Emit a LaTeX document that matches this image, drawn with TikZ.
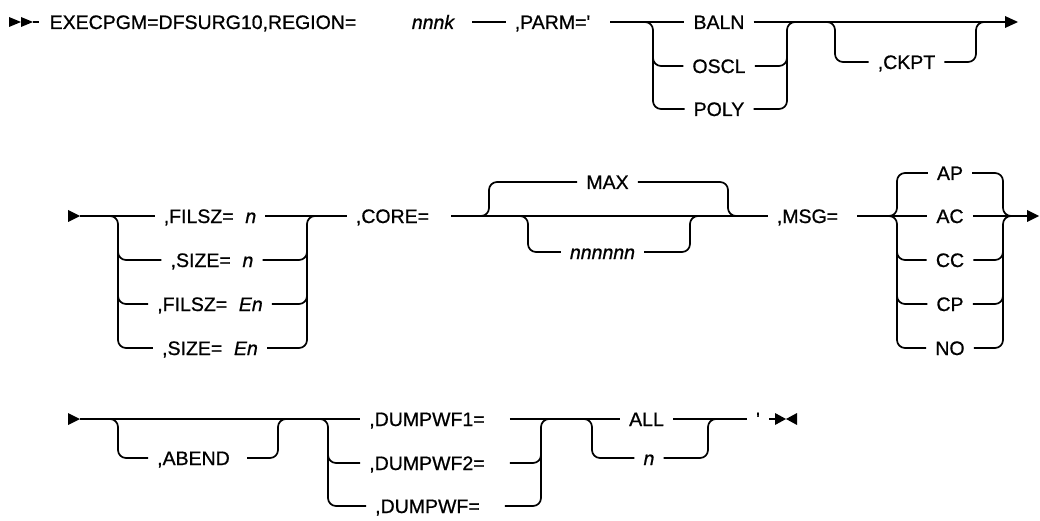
\documentclass[tikz,border=0pt]{standalone}
\usepackage{fontspec}
\setmainfont{Liberation Sans}[FakeBold=0.8,ItalicFeatures={FakeBold=0.8}]
\begin{document}
\begin{tikzpicture}[x=1pt,y=-1pt,
  rail/.style={line width=1.7pt, rounded corners=8pt},
  lbl/.style={inner xsep=9pt, inner ysep=0pt, text height=14pt, text depth=0pt, font=\fontsize{19.5}{22}\selectfont},
  var/.style={lbl, font=\fontsize{19.5}{22}\selectfont\itshape},
  tipfill/.style={fill=black, draw=none}]
\useasboundingbox (0,0) rectangle (1040,521);
\newcommand{\gp}{\hspace{0.6em}}
% ---------------- row 1 ----------------
\coordinate (s1) at (33,22);
\fill[tipfill] (9,17) -- (21,22) -- (9,27) -- cycle;
\fill[tipfill] (21,17) -- (33,22) -- (21,27) -- cycle;
\node[lbl] (exec) at (203,22) {EXECPGM=DFSURG10,REGION=};
\draw[rail] (s1) -- ([xshift=-1pt]exec.west);
\node[var] (nnnk) at (433,22) {nnnk};
\node[lbl] (parm) at (552.5,22) {,PARM=\textquotesingle};
\node[lbl] (baln) at (719,22) {BALN};
\node[lbl] (oscl) at (719,66) {OSCL};
\node[lbl] (poly) at (719,109) {POLY};
\node[lbl] (ckpt) at (906.5,62) {,CKPT};
\coordinate (e1) at (1018,22);
\draw[rail] ([xshift=9pt]nnnk.east) -- (parm.west);
\draw[rail] ([xshift=11pt]parm.east) -- (baln.west);
\draw[rail] (baln.east) -- ([xshift=-11pt]e1);
\fill[tipfill] (e1) -- ++(-13,-6) -- ++(0,12) -- cycle;
\draw[rail] (640,22) -- (653,22) -- (653,109) -- (poly.west);
\draw[rail] (653,45) -- (653,66) -- (oscl.west);
\draw[rail] (poly.east) -- (787,109) -- (787,22) -- (800,22);
\draw[rail] (oscl.east) -- (787,66) -- (787,45);
\draw[rail] (822,22) -- (835,22) -- (835,62) -- (ckpt.west);
\draw[rail] (ckpt.east) -- (976,62) -- (976,22) -- (989,22);
% ---------------- row 2 ----------------
\coordinate (s2) at (80,216);
\fill[tipfill] (68,210) -- (s2) -- (68,222) -- cycle;
\node[lbl] (fil1) at (210,216) {,FILSZ=\gp\textit{n}};
\node[lbl] (siz1) at (212,260) {,SIZE=\gp\textit{n}};
\node[lbl] (fil2) at (210,304) {,FILSZ=\gp\textit{En}};
\node[lbl] (siz2) at (210,348) {,SIZE=\gp\textit{En}};
\draw[rail] (s2) -- (fil1.west);
\draw[rail] (105,216) -- (118,216) -- (118,348) -- (siz2.west);
\draw[rail] (118,240) -- (118,260) -- (siz1.west);
\draw[rail] (118,285) -- (118,304) -- (fil2.west);
\draw[rail] (siz2.east) -- (307,348) -- (307,216) -- (320,216);
\draw[rail] (siz1.east) -- (307,260) -- (307,240);
\draw[rail] (fil2.east) -- (307,304) -- (307,285);
\node[lbl] (core) at (392.5,216) {,CORE=};
\draw[rail] (fil1.east) -- (core.west);
\node[lbl] (max) at (607.5,182) {MAX};
\node[var] (nn) at (602.5,252) {nnnnnn};
\node[lbl] (msg) at (807.5,216) {,MSG=};
\draw[rail] ([xshift=13pt]core.east) -- (msg.west);
\draw[rail] (476,216) -- (489,216) -- (489,182) -- (max.west);
\draw[rail] (max.east) -- (728,182) -- (728,216) -- (741,216);
\draw[rail] (515,216) -- (528,216) -- (528,252) -- (nn.west);
\draw[rail] (nn.east) -- (690,252) -- (690,216) -- (703,216);
\node[lbl] (ap) at (950,173) {AP};
\node[lbl] (ac) at (950,216) {AC};
\node[lbl] (cc) at (950,260) {CC};
\node[lbl] (cp) at (950,304) {CP};
\node[lbl] (no) at (950,348) {NO};
\coordinate (e2) at (1039,216);
\draw[rail] ([xshift=10pt]msg.east) -- (ac.west);
\draw[rail] (884,216) -- (897,216) -- (897,173) -- (ap.west);
\draw[rail] (884,216) -- (897,216) -- (897,348) -- (no.west);
\draw[rail] (897,240) -- (897,260) -- (cc.west);
\draw[rail] (897,285) -- (897,304) -- (cp.west);
\draw[rail] (ap.east) -- (1003,173) -- (1003,216) -- (1016,216);
\draw[rail] (no.east) -- (1003,348) -- (1003,216) -- (1016,216);
\draw[rail] (cc.east) -- (1003,260) -- (1003,240);
\draw[rail] (cp.east) -- (1003,304) -- (1003,285);
\draw[rail] (ac.east) -- ([xshift=-11pt]e2);
\fill[tipfill] (e2) -- ++(-12,-6) -- ++(0,12) -- cycle;
% ---------------- row 3 ----------------
\coordinate (s3) at (80,419);
\fill[tipfill] (68,413) -- (s3) -- (68,425) -- cycle;
\node[lbl] (abend) at (193.5,458) {,ABEND};
\node[lbl] (d1) at (427,419) {,DUMPWF1=};
\node[lbl] (d2) at (427,463) {,DUMPWF2=};
\node[lbl] (d3) at (427.5,506) {,DUMPWF=};
\draw[rail] (s3) -- (d1.west);
\draw[rail] (105,419) -- (118,419) -- (118,458) -- (abend.west);
\draw[rail] ([xshift=8pt]abend.east) -- (278,458) -- (278,419) -- (291,419);
\draw[rail] (315,419) -- (328,419) -- (328,506) -- (d3.west);
\draw[rail] (328,440) -- (328,463) -- (d2.west);
\draw[rail] ([xshift=16pt]d2.east) -- (541,463) -- (541,440);
\draw[rail] ([xshift=16pt]d3.east) -- (541,506) -- (541,419) -- (554,419);
\node[lbl] (all) at (646.5,419) {ALL};
\node[var] (nv) at (649,458) {n};
\draw[rail] ([xshift=16pt]d1.east) -- (all.west);
\draw[rail] (579,419) -- (592,419) -- (592,458) -- (nv.west);
\draw[rail] (nv.east) -- (708,458) -- (708,419) -- (721,419);
\node[lbl] (apos) at (758,419) {\textquotesingle};
\draw[rail] (all.east) -- (apos.west);
\coordinate (e3) at (786,419);
\draw[rail] (apos.east) -- (775,419);
\fill[tipfill] (775,413) -- (e3) -- (775,425) -- cycle;
\fill[tipfill] (797,413) -- (e3) -- (797,425) -- cycle;
\end{tikzpicture}
\end{document}
